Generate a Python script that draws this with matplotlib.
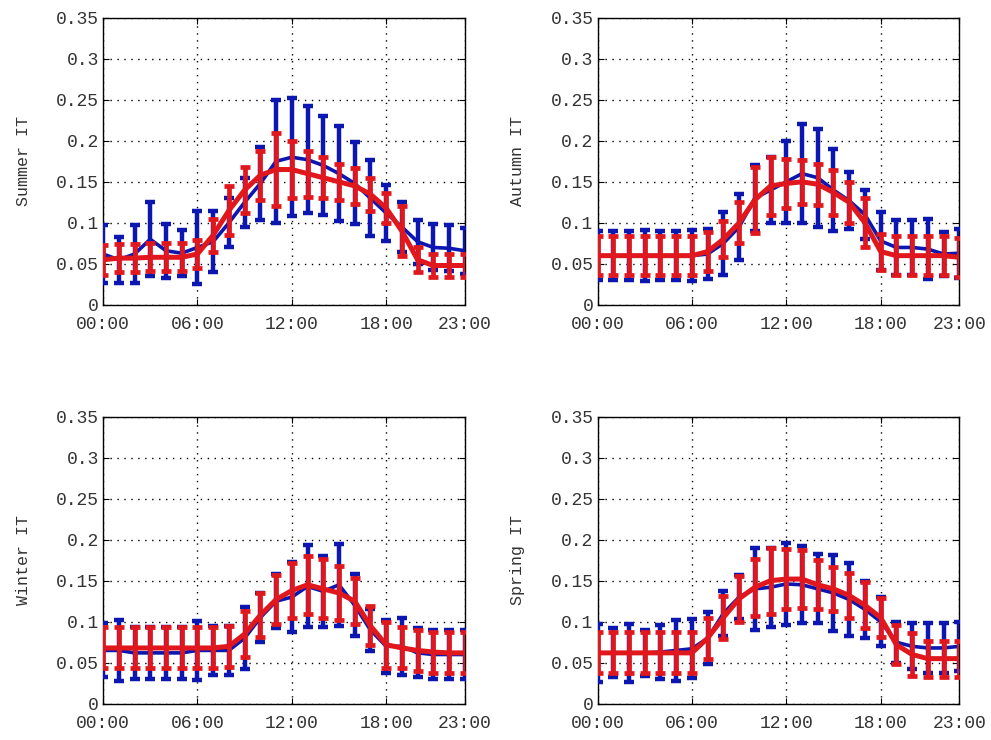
import matplotlib
matplotlib.use('Agg')
from matplotlib import pyplot as plt

# hours of the day
hours = list(range(24))
tick_hours = [0, 6, 12, 18, 23]
tick_labels = ['00:00', '06:00', '12:00', '18:00', '23:00']
season_labels = ['Summer IT', 'Autumn IT', 'Winter IT', 'Spring IT']

# blue series (mean and half error bar)
summer_blue_mean = [0.062, 0.055, 0.062, 0.080, 0.066, 0.063, 0.070, 0.077, 0.100, 0.125, 0.148, 0.175,
                    0.180, 0.177, 0.170, 0.160, 0.148, 0.130, 0.112, 0.095, 0.077, 0.070, 0.069, 0.066]
summer_blue_err = [0.035, 0.028, 0.035, 0.045, 0.033, 0.028, 0.045, 0.037, 0.030, 0.030, 0.045, 0.075,
                   0.072, 0.065, 0.060, 0.058, 0.050, 0.046, 0.034, 0.030, 0.027, 0.028, 0.028, 0.028]
autumn_blue_mean = [0.060, 0.060, 0.060, 0.060, 0.060, 0.060, 0.060, 0.062, 0.075, 0.095, 0.130, 0.140,
                    0.150, 0.160, 0.155, 0.140, 0.127, 0.110, 0.078, 0.070, 0.070, 0.068, 0.062, 0.063]
autumn_blue_err = [0.030, 0.030, 0.030, 0.031, 0.030, 0.030, 0.031, 0.030, 0.038, 0.040, 0.040, 0.040,
                   0.050, 0.060, 0.060, 0.050, 0.035, 0.030, 0.035, 0.033, 0.033, 0.037, 0.027, 0.030]
winter_blue_mean = [0.065, 0.065, 0.062, 0.062, 0.062, 0.062, 0.065, 0.065, 0.065, 0.080, 0.105, 0.125,
                    0.130, 0.143, 0.137, 0.145, 0.120, 0.090, 0.070, 0.070, 0.062, 0.060, 0.060, 0.060]
winter_blue_err = [0.033, 0.037, 0.032, 0.032, 0.032, 0.032, 0.036, 0.030, 0.030, 0.038, 0.030, 0.033,
                   0.043, 0.050, 0.043, 0.050, 0.038, 0.026, 0.032, 0.035, 0.030, 0.030, 0.030, 0.030]
spring_blue_mean = [0.062, 0.062, 0.062, 0.062, 0.063, 0.065, 0.067, 0.080, 0.110, 0.130, 0.140, 0.142,
                    0.146, 0.145, 0.140, 0.135, 0.127, 0.115, 0.100, 0.075, 0.070, 0.068, 0.068, 0.070]
spring_blue_err = [0.035, 0.030, 0.035, 0.028, 0.033, 0.037, 0.036, 0.032, 0.028, 0.027, 0.050, 0.048,
                   0.050, 0.047, 0.042, 0.046, 0.045, 0.035, 0.030, 0.025, 0.028, 0.030, 0.030, 0.030]

# red series (mean and half error bar)
summer_red_mean = [0.055, 0.057, 0.057, 0.058, 0.058, 0.058, 0.062, 0.085, 0.115, 0.140, 0.158, 0.165,
                   0.165, 0.160, 0.155, 0.150, 0.145, 0.135, 0.118, 0.090, 0.055, 0.048, 0.048, 0.048]
summer_red_err = [0.018, 0.017, 0.017, 0.017, 0.017, 0.017, 0.017, 0.020, 0.030, 0.028, 0.030, 0.045,
                  0.035, 0.028, 0.025, 0.022, 0.022, 0.020, 0.018, 0.030, 0.015, 0.014, 0.014, 0.014]
autumn_red_mean = [0.060, 0.060, 0.060, 0.060, 0.060, 0.060, 0.060, 0.065, 0.080, 0.100, 0.128, 0.145,
                   0.148, 0.150, 0.147, 0.137, 0.125, 0.100, 0.065, 0.060, 0.060, 0.060, 0.060, 0.058]
autumn_red_err = [0.024, 0.024, 0.024, 0.024, 0.024, 0.024, 0.024, 0.024, 0.022, 0.025, 0.040, 0.035,
                  0.030, 0.027, 0.025, 0.027, 0.025, 0.030, 0.022, 0.024, 0.024, 0.024, 0.024, 0.024]
winter_red_mean = [0.068, 0.068, 0.068, 0.068, 0.068, 0.068, 0.068, 0.068, 0.070, 0.085, 0.108, 0.127,
                   0.138, 0.145, 0.140, 0.135, 0.125, 0.095, 0.072, 0.068, 0.065, 0.063, 0.062, 0.062]
winter_red_err = [0.025, 0.025, 0.025, 0.025, 0.025, 0.025, 0.025, 0.025, 0.025, 0.028, 0.027, 0.030,
                  0.033, 0.035, 0.036, 0.033, 0.028, 0.024, 0.028, 0.025, 0.025, 0.025, 0.025, 0.025]
spring_red_mean = [0.062, 0.062, 0.062, 0.062, 0.062, 0.062, 0.062, 0.080, 0.105, 0.128, 0.142, 0.150,
                   0.152, 0.152, 0.145, 0.140, 0.132, 0.120, 0.105, 0.072, 0.060, 0.055, 0.055, 0.055]
spring_red_err = [0.025, 0.025, 0.025, 0.025, 0.025, 0.025, 0.025, 0.025, 0.026, 0.028, 0.035, 0.040,
                  0.037, 0.035, 0.030, 0.027, 0.027, 0.028, 0.024, 0.024, 0.026, 0.022, 0.022, 0.022]

blue_means = [summer_blue_mean, autumn_blue_mean, winter_blue_mean, spring_blue_mean]
blue_errs = [summer_blue_err, autumn_blue_err, winter_blue_err, spring_blue_err]
red_means = [summer_red_mean, autumn_red_mean, winter_red_mean, spring_red_mean]
red_errs = [summer_red_err, autumn_red_err, winter_red_err, spring_red_err]

BLUE = '#0c16b0'
RED = '#e0181e'

plt.rcParams['font.family'] = ['Liberation Mono', 'DejaVu Sans Mono']

fig = plt.figure(figsize=(9.91, 7.40), dpi=100)
# axes boxes [left, bottom, width, height] in figure fraction
boxes = [[0.104, 0.588, 0.365, 0.388],
         [0.603, 0.588, 0.365, 0.388],
         [0.104, 0.049, 0.365, 0.388],
         [0.603, 0.049, 0.365, 0.388]]

for k in range(4):
    ax = fig.add_axes(boxes[k])
    ax.errorbar(hours, blue_means[k], yerr=blue_errs[k], color=BLUE, linewidth=2.6,
                elinewidth=3.2, capsize=3.5, capthick=3.2, zorder=3)
    ax.errorbar(hours, red_means[k], yerr=red_errs[k], color=RED, linewidth=3.6,
                elinewidth=3.4, capsize=3.5, capthick=3.4, zorder=4)
    ax.set_xlim(0, 23)
    ax.set_ylim(0, 0.35)
    ax.set_xticks(tick_hours)
    ax.set_xticklabels(tick_labels)
    ax.set_yticks([0, 0.05, 0.1, 0.15, 0.2, 0.25, 0.3, 0.35])
    ax.set_yticklabels(['0', '0.05', '0.1', '0.15', '0.2', '0.25', '0.3', '0.35'])
    ax.grid(True, color='black', linestyle=(0, (1, 4)), linewidth=1.0)
    ax.tick_params(direction='in', length=4, width=0.8, labelsize=13, pad=3,
                   top=True, right=True, colors='black', labelcolor='#333333')
    ax.tick_params(axis='x', pad=8)
    ax.set_ylabel(season_labels[k], fontsize=12, color='#333333')
    ax.yaxis.set_label_coords(-0.20, 0.5)
    for s in ax.spines.values():
        s.set_linewidth(1.0)

plt.savefig('out.png', dpi=100)
